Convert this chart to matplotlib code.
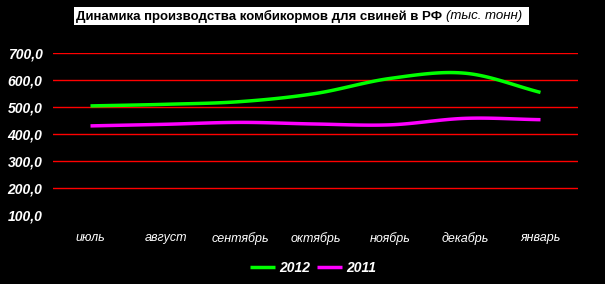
import numpy as np
import matplotlib
matplotlib.use("Agg")
import matplotlib.pyplot as plt
from matplotlib.patches import Rectangle

months = ["июль", "август", "сентябрь", "октябрь", "ноябрь", "декабрь", "январь"]
series_2012 = [504, 510, 520, 550, 606, 625, 554]
series_2011 = [430, 436, 443, 437, 434, 458, 453]
y_ticks = [100, 200, 300, 400, 500, 600, 700]
y_tick_labels = ["100,0", "200,0", "300,0", "400,0", "500,0", "600,0", "700,0"]
title_main = "Динамика производства комбикормов для свиней в РФ"
title_unit = "(тыс. тонн)"

FONT = ["Liberation Sans", "DejaVu Sans"]


def smooth(xs, ys, n=20):
    xs = np.asarray(xs, float)
    ys = np.asarray(ys, float)
    px = np.concatenate([[2 * xs[0] - xs[1]], xs, [2 * xs[-1] - xs[-2]]])
    py = np.concatenate([[2 * ys[0] - ys[1]], ys, [2 * ys[-1] - ys[-2]]])
    ox, oy = [], []
    for i in range(1, len(px) - 2):
        t = np.linspace(0, 1, n, endpoint=False)
        for p, out in ((px, ox), (py, oy)):
            p0, p1, p2, p3 = p[i - 1], p[i], p[i + 1], p[i + 2]
            out.extend(0.5 * ((2 * p1) + (-p0 + p2) * t
                              + (2 * p0 - 5 * p1 + 4 * p2 - p3) * t ** 2
                              + (-p0 + 3 * p1 - 3 * p2 + p3) * t ** 3))
    ox.append(xs[-1])
    oy.append(ys[-1])
    return np.array(ox), np.array(oy)


W, H = 605, 284
fig = plt.figure(figsize=(W / 100, H / 100), dpi=100, facecolor="black")
ax = fig.add_axes([53 / W, 1 - 215 / H, 525 / W, 162 / H])
ax.set_facecolor("black")

x = np.arange(len(months))
for vals, col, lab in ((series_2012, "#00ff00", "2012"), (series_2011, "#ff00ff", "2011")):
    sx, sy = smooth(x, vals)
    ax.plot(sx, sy, color=col, lw=2.5, label=lab, solid_capstyle="butt")

ax.set_xlim(-0.5, len(months) - 0.5)
ax.set_ylim(100, 700)
for v in y_ticks[1:]:
    ax.axhline(v, color="red", lw=1, zorder=0)
ax.set_yticks(y_ticks)
ax.set_yticklabels(y_tick_labels, color="white", fontsize=10, fontweight="bold",
                   fontstyle="italic", family=FONT)
ax.set_xticks(x)
ax.set_xticklabels(months, color="white", fontsize=9, fontstyle="italic",
                   family=FONT)
ax.tick_params(length=0, pad=12, axis="x")
ax.tick_params(length=0, pad=7.5, axis="y")
for s in ax.spines.values():
    s.set_visible(False)

# title on white box
fig.add_artist(Rectangle((74 / W, 1 - 25 / H), (529 - 74) / W, 18 / H,
                         transform=fig.transFigure, facecolor="white",
                         edgecolor="none"))
tmain = fig.text(76 / W, 1 - 16 / H, title_main, ha="left", va="center",
                 fontsize=9.5, fontweight="bold", color="black", family=FONT)
fig.canvas.draw()
bb = tmain.get_window_extent()
fig.text((bb.x1 + 4) / W, 1 - 16 / H, title_unit, ha="left", va="center",
         fontsize=9.5, fontstyle="italic", color="black", family=FONT)

leg = ax.legend(loc="center", bbox_to_anchor=((313 - 53) / 525, (215 - 268) / 162),
                bbox_transform=ax.transAxes, ncol=2, frameon=False,
                handlelength=1.8, columnspacing=0.5, handletextpad=0.3,
                prop=dict(family=FONT, weight="bold", style="italic", size=10))
for txt in leg.get_texts():
    txt.set_color("white")

fig.savefig("out.png", dpi=100, facecolor="black")
